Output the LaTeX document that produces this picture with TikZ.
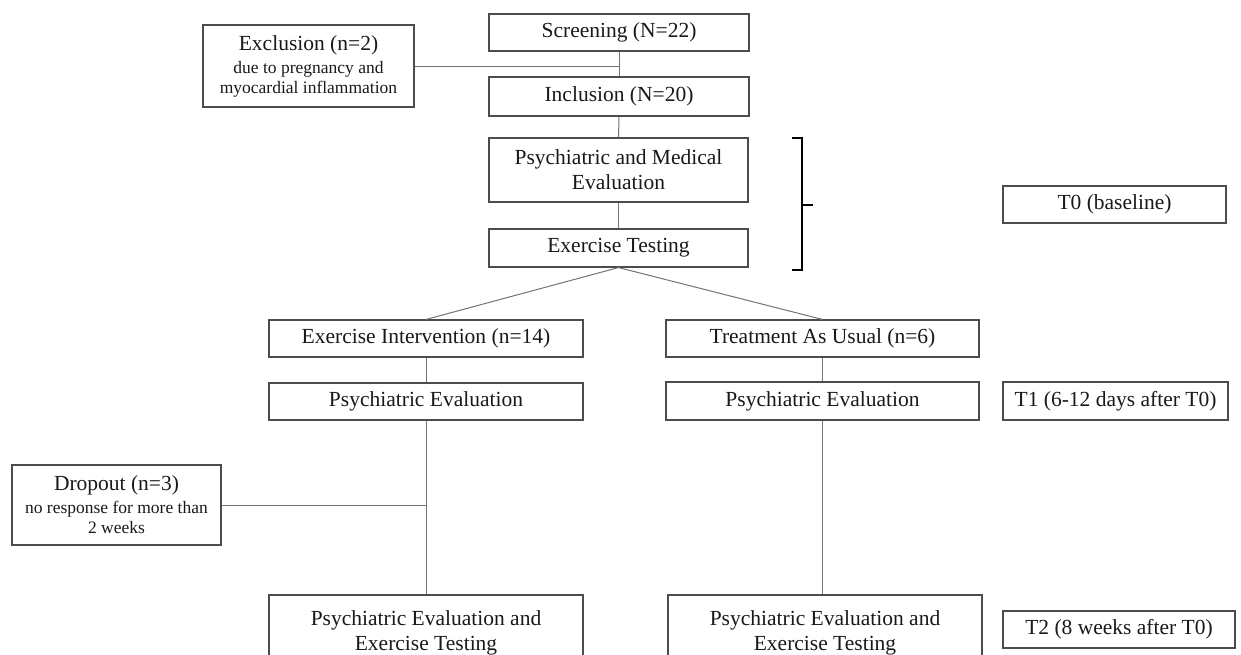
\documentclass[tikz,border=0pt]{standalone}
\usepackage{fontspec}
\setmainfont{Liberation Serif}
\newcommand{\smalltxt}[1]{{\fontsize{17.5}{22}\selectfont #1}}
\begin{document}
\begin{tikzpicture}[x=1pt,y=-1pt,
  box/.style={draw=black!70, line width=1.1pt, fill=white, inner sep=0pt, align=center,
    font=\fontsize{21.5}{25}\selectfont, text=black!90},
  conn/.style={draw=black!55, line width=1pt},
  brace/.style={draw=black, line width=2.6pt}]
\useasboundingbox (0,0) rectangle (1241,654);
\node[box, minimum width=211pt, minimum height=82pt] (excl) at (308.5,66)
  {Exclusion (n=2)\\[-2pt]\smalltxt{due to pregnancy and}\\[-5pt]\smalltxt{myocardial inflammation}};
\node[box, minimum width=260pt, minimum height=37pt] (screen) at (619,32.5) {Screening (N=22)};
\node[box, minimum width=260pt, minimum height=39pt] (incl) at (619,96.5) {Inclusion (N=20)};
\node[box, minimum width=259pt, minimum height=64pt] (pme) at (618.5,170) {Psychiatric and Medical\\Evaluation};
\node[box, minimum width=259pt, minimum height=38pt] (et) at (618.5,248) {Exercise Testing};
\node[box, minimum width=223pt, minimum height=37pt] (t0) at (1114.5,204.5) {T0 (baseline)};
\node[box, minimum width=314pt, minimum height=37pt] (ei) at (426,338.5) {Exercise Intervention (n=14)};
\node[box, minimum width=313pt, minimum height=37pt] (tau) at (822.5,338.5) {Treatment As Usual (n=6)};
\node[box, minimum width=314pt, minimum height=37pt] (pel) at (426,401.5) {Psychiatric Evaluation};
\node[box, minimum width=313pt, minimum height=38pt] (per) at (822.5,401) {Psychiatric Evaluation};
\node[box, minimum width=225pt, minimum height=38pt] (t1) at (1115.5,401) {T1 (6-12 days after T0)};
\node[box, minimum width=209pt, minimum height=80pt] (drop) at (116.5,505)
  {Dropout (n=3)\\[-2pt]\smalltxt{no response for more than}\\[-5pt]\smalltxt{2 weeks}};
\node[box, minimum width=314pt, minimum height=75pt] (bl) at (426,632.5) {Psychiatric Evaluation and\\Exercise Testing};
\node[box, minimum width=314pt, minimum height=75pt] (br) at (825,632.5) {Psychiatric Evaluation and\\Exercise Testing};
\node[box, minimum width=232pt, minimum height=37pt] (t2) at (1119,629.5) {T2 (8 weeks after T0)};
% connectors
\coordinate (j1) at (screen.south |- excl.east);
\draw[conn] (screen.south) -- (incl.north);
\draw[conn] (excl.east) -- (j1);
\draw[conn] (incl.south) -- (pme.north);
\draw[conn] (pme.south) -- (et.north);
\draw[conn] (et.south) -- (ei.north);
\draw[conn] (et.south) -- (tau.north);
\draw[conn] (ei.south) -- (pel.north);
\draw[conn] (tau.south) -- (per.north);
\draw[conn] (pel.south) -- (bl.north);
\draw[conn] (per.south) -- (per.south |- br.north);
\coordinate (j2) at (pel.south |- drop.east);
\draw[conn] (drop.east) -- (j2);
% bracket
\coordinate (bt) at (802,138);
\coordinate (bb) at (802,270);
\coordinate (bm) at (802,205);
\draw[brace] ([xshift=-10pt]bt) -- (bt) -- (bb) -- ([xshift=-10pt]bb);
\draw[brace] (bm) -- ([xshift=11pt]bm);
\end{tikzpicture}
\end{document}
